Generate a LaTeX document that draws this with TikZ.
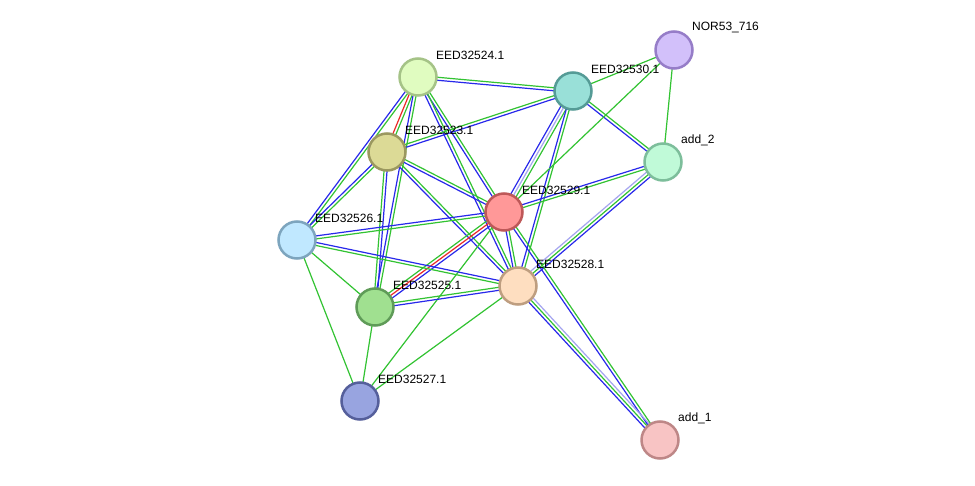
\documentclass[tikz,border=0pt]{standalone}
\usepackage{fontspec}
\setmainfont{Liberation Sans}
\usetikzlibrary{calc}
\definecolor{cb}{RGB}{40,40,235}
\definecolor{cg}{RGB}{50,195,50}
\definecolor{cr}{RGB}{235,40,40}
\definecolor{cl}{RGB}{165,165,240}
\definecolor{f716}{RGB}{210,192,250}\definecolor{b716}{RGB}{150,125,200}
\definecolor{f24}{RGB}{224,252,192}\definecolor{b24}{RGB}{165,195,135}
\definecolor{f30}{RGB}{153,224,216}\definecolor{b30}{RGB}{85,155,150}
\definecolor{fa2}{RGB}{192,250,216}\definecolor{ba2}{RGB}{125,190,155}
\definecolor{f23}{RGB}{220,218,150}\definecolor{b23}{RGB}{155,152,95}
\definecolor{f29}{RGB}{255,152,152}\definecolor{b29}{RGB}{190,88,88}
\definecolor{f26}{RGB}{192,232,255}\definecolor{b26}{RGB}{125,165,190}
\definecolor{f28}{RGB}{254,222,192}\definecolor{b28}{RGB}{190,158,128}
\definecolor{f25}{RGB}{160,224,144}\definecolor{b25}{RGB}{95,155,88}
\definecolor{f27}{RGB}{152,164,224}\definecolor{b27}{RGB}{85,95,155}
\definecolor{fa1}{RGB}{248,196,196}\definecolor{ba1}{RGB}{190,135,135}
\newcommand\E[3]{\foreach \cc/\oo in {#3}{\draw[\cc] ($(#1)!\oo pt!90:(#2)$) -- ($(#2)!\oo pt!-90:(#1)$);}}
\newcommand\ND[4]{\node[nd,fill=#2,draw=#3] (c#1) at (#1) {};\node[lbl] (l#1) at ($(#1)+(18,-22)$) {#4};}
\begin{document}
\begin{tikzpicture}[x=1pt,y=-1pt,
  eb/.style={draw=cb,line width=1.2pt},
  eg/.style={draw=cg,line width=1.2pt},
  er/.style={draw=cr,line width=1.2pt},
  el/.style={draw=cl,line width=1.2pt},
  nd/.style={circle,minimum size=37pt,inner sep=0pt,line width=2.5pt},
  lbl/.style={anchor=west,inner sep=0pt,font=\fontsize{12}{14}\selectfont}]
\useasboundingbox[fill=white] (0,0) rectangle (975,486);
\coordinate (n716) at (674,50);
\coordinate (n24) at (418,77);
\coordinate (n30) at (573,91);
\coordinate (a2) at (663,162);
\coordinate (n23) at (387,152);
\coordinate (n29) at (504,212);
\coordinate (n26) at (297,240);
\coordinate (n28) at (518,286);
\coordinate (n25) at (375,307);
\coordinate (n27) at (360,401);
\coordinate (a1) at (660,440);
% edges
\E{n24}{n30}{eb/-1.5,eg/1.5}
\E{n24}{n23}{er/-1.5,eg/1.5}
\E{n24}{n26}{eb/-1.5,eg/1.5}
\E{n24}{n25}{eb/-1.5,eg/1.5}
\E{n24}{n29}{eb/-1.5,eg/1.5}
\E{n24}{n28}{eb/-1.5,eg/1.5}
\E{n23}{n30}{eb/-1.5,eg/1.5}
\E{n23}{n26}{eb/-1.5,eg/1.5}
\E{n23}{n25}{eg/-1.5,eb/1.5}
\E{n23}{n29}{eb/-1.5,eg/1.5}
\E{n23}{n28}{eb/-1.5,eg/1.5}
\E{n30}{n29}{eb/-3,el/0,eg/3}
\E{n30}{n28}{eb/-1.5,eg/1.5}
\E{n30}{a2}{eb/-1.5,eg/1.5}
\E{n30}{n716}{eg/0}
\E{n716}{n29}{eg/0}
\E{n716}{a2}{eg/0}
\E{a2}{n29}{eb/-1.5,eg/1.5}
\E{a2}{n28}{el/-3,eg/0,eb/3}
\E{n29}{n26}{eb/-1.5,eg/1.5}
\E{n29}{n25}{eg/-3,er/0,eb/3}
\E{n29}{n28}{eb/-1.5,eg/1.5}
\E{n29}{a1}{eb/-1.5,eg/1.5}
\E{n29}{n27}{eg/0}
\E{n28}{n26}{eb/-1.5,eg/1.5}
\E{n28}{n25}{eg/-1.5,eb/1.5}
\E{n28}{n27}{eg/0}
\E{n28}{a1}{eb/-3,eg/0,el/3}
\E{n26}{n25}{eg/0}
\E{n26}{n27}{eg/0}
\E{n25}{n27}{eg/0}
% nodes
\ND{n716}{f716}{b716}{NOR53\_716}
\ND{n24}{f24}{b24}{EED32524.1}
\ND{n30}{f30}{b30}{EED32530.1}
\ND{a2}{fa2}{ba2}{add\_2}
\ND{n23}{f23}{b23}{EED32523.1}
\ND{n29}{f29}{b29}{EED32529.1}
\ND{n26}{f26}{b26}{EED32526.1}
\ND{n28}{f28}{b28}{EED32528.1}
\ND{n25}{f25}{b25}{EED32525.1}
\ND{n27}{f27}{b27}{EED32527.1}
\ND{a1}{fa1}{ba1}{add\_1}
\end{tikzpicture}
\end{document}
